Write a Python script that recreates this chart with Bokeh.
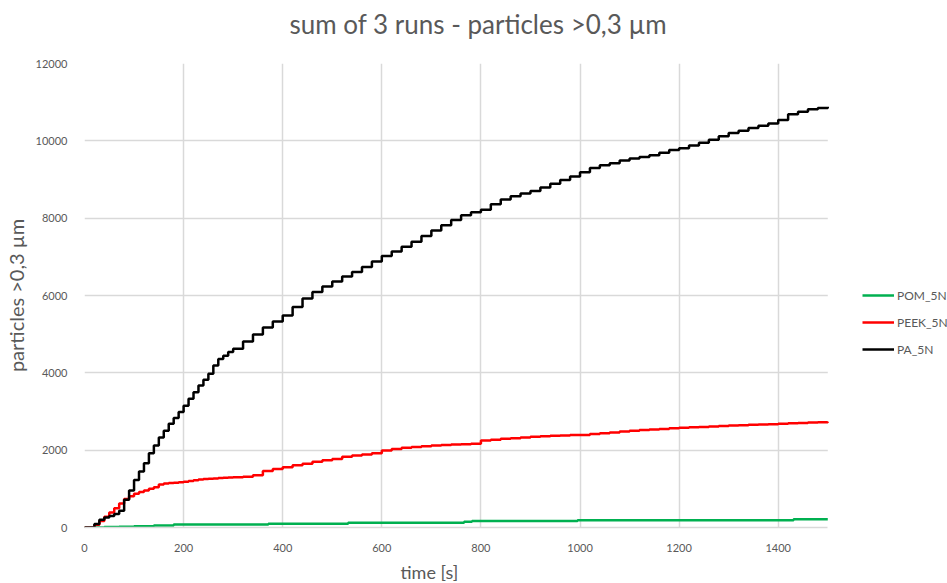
from bokeh.plotting import figure
from bokeh.models import Range1d, FixedTicker, Legend, LegendItem, Title, BoxAnnotation
from bokeh.embed import file_html
from bokeh.resources import INLINE

# time grid [s]
time_s = [0, 10, 20, 30, 40, 50, 60, 70, 80, 90, 100, 110, 120, 130, 140, 150, 160,
          170, 180, 190, 200, 210, 220, 230, 240, 250, 260, 270, 280, 290, 300,
          320, 340, 360, 380, 400, 420, 440, 460, 480, 500, 520, 540, 560, 580, 600,
          620, 640, 660, 680, 700, 720, 740, 760, 780, 800, 820, 840, 860, 880, 900,
          920, 940, 960, 980, 1000, 1020, 1040, 1060, 1080, 1100, 1120, 1140, 1160,
          1180, 1200, 1220, 1240, 1260, 1280, 1300, 1320, 1340, 1360, 1380, 1400,
          1420, 1440, 1460, 1480, 1500]

pa_5n = [0, 0, 90, 200, 260, 300, 350, 430, 720, 960, 1230, 1450, 1660, 1920, 2120,
         2330, 2500, 2680, 2830, 2990, 3150, 3330, 3500, 3670, 3820, 3975, 4190, 4360,
         4440, 4540, 4620,
         4810, 4990, 5170, 5330, 5480, 5700, 5920, 6090, 6230, 6360, 6490,
         6610, 6740, 6880, 7020, 7140, 7260, 7390, 7540, 7680, 7816, 7950, 8075, 8150,
         8220, 8360, 8480, 8570, 8640, 8700, 8790, 8890, 8990, 9080, 9190, 9300, 9370,
         9420, 9490, 9540, 9580, 9630, 9690, 9760, 9810, 9880, 9950, 10030, 10120,
         10200, 10260, 10330, 10390, 10450, 10540, 10690, 10750, 10815, 10850, 10880]

peek_5n = [0, 0, 70, 170, 280, 390, 500, 620, 740, 810, 870, 920, 960, 1000, 1040,
           1110, 1140, 1150, 1160, 1170, 1180, 1200, 1220, 1240, 1255, 1262, 1270, 1278,
           1285, 1292, 1300,
           1315, 1350, 1460, 1510, 1560, 1610, 1650, 1700, 1740, 1770, 1830,
           1860, 1890, 1920, 1990, 2030, 2060, 2080, 2100, 2120, 2135, 2145, 2150, 2165,
           2250, 2270, 2295, 2310, 2330, 2345, 2360, 2370, 2380, 2390, 2395, 2420, 2440,
           2460, 2480, 2505, 2520, 2535, 2550, 2565, 2578, 2590, 2600, 2612, 2622, 2635,
           2645, 2655, 2662, 2672, 2682, 2695, 2705, 2715, 2725, 2735]

pom_time = [0, 20, 40, 70, 100, 140, 180, 371, 532, 766, 782, 995, 1431, 1500]
pom_5n = [0, 0, 10, 20, 35, 50, 80, 100, 122, 150, 165, 190, 215, 215]

x_ticks = [0, 200, 400, 600, 800, 1000, 1200, 1400]
y_ticks = [0, 2000, 4000, 6000, 8000, 10000, 12000]
X_MAX = 1500
Y_MAX = 12000

FONT = "Lato"
GREY = "#595959"
GRID = "#D9D9D9"

# layout (pixels): the frame is stretched to the right page edge so the legend
# (drawn inside the frame) is not clipped; the data axis ends at X_MAX.
W, H = 947, 583
LEFT, TOP, BOTTOM = 82, 63, 56
AXIS_PX = 745  # pixel length of 0..X_MAX
frame_w = W - LEFT
x_end = X_MAX * frame_w / AXIS_PX

p = figure(width=W, height=H, output_backend="svg", toolbar_location=None,
           x_range=Range1d(0, x_end), y_range=Range1d(0, Y_MAX),
           min_border_left=LEFT, min_border_right=0, min_border_top=TOP,
           min_border_bottom=BOTTOM)

# title: inner spacer + text
p.add_layout(Title(text=" ", text_font_size="10px", standoff=11), "above")
p.add_layout(Title(text="sum of 3 runs - particles >0,3 µm", align="left", offset=205,
                   text_font=FONT, text_font_size="26px", text_color=GREY,
                   text_font_style="normal", standoff=0), "above")

p.outline_line_color = None
p.background_fill_color = "white"

for ax in (p.xaxis[0], p.yaxis[0]):
    ax.major_tick_line_color = None
    ax.minor_tick_line_color = None
    ax.major_label_text_font = FONT
    ax.major_label_text_font_size = "11px"
    ax.major_label_text_color = GREY

p.xaxis.ticker = FixedTicker(ticks=x_ticks)
p.yaxis.ticker = FixedTicker(ticks=y_ticks)
p.xaxis.bounds = (0, X_MAX)
p.yaxis.axis_label = "particles >0,3 µm"
p.yaxis.axis_label_text_font = FONT
p.yaxis.axis_label_text_font_size = "20px"
p.yaxis.axis_label_text_color = GREY
p.yaxis.axis_label_text_font_style = "normal"
p.xaxis.axis_line_color = GRID
p.xaxis.axis_line_width = 1.5
p.yaxis.axis_line_color = None
p.xaxis.major_label_standoff = 10
p.yaxis.major_label_standoff = 11
p.yaxis.axis_label_standoff = 5

# x-axis title: small spacer + text
p.add_layout(Title(text=" ", text_font_size="2px", standoff=0), "below")
p.add_layout(Title(text="time [s]", align="left", offset=316, text_font=FONT,
                   text_font_size="18px", text_color=GREY, text_font_style="normal",
                   standoff=0), "below")

p.xgrid.ticker = FixedTicker(ticks=x_ticks)
p.ygrid.ticker = FixedTicker(ticks=y_ticks)
p.grid.grid_line_color = GRID
p.grid.grid_line_width = 1.5

# blank out the grid beyond the end of the time axis
p.add_layout(BoxAnnotation(left=X_MAX, fill_color="white", fill_alpha=1.0,
                           line_color=None, level="underlay"))

r_pom = p.step(pom_time, pom_5n, mode="after", line_color="#00B050", line_width=2.5)
r_peek = p.step(time_s, peek_5n, mode="after", line_color="#FF0000", line_width=2.5)
r_pa = p.step(time_s, pa_5n, mode="after", line_color="#000000", line_width=2.5)

legend = Legend(items=[LegendItem(label="POM_5N", renderers=[r_pom]),
                       LegendItem(label="PEEK_5N", renderers=[r_peek]),
                       LegendItem(label="PA_5N", renderers=[r_pa])],
                location=(778, 168), orientation="vertical",
                glyph_width=32, glyph_height=20, label_height=20, spacing=7,
                label_standoff=3, padding=0, margin=0,
                border_line_color=None, background_fill_alpha=0,
                label_text_font=FONT, label_text_font_size="12px",
                label_text_color=GREY)
p.add_layout(legend, "center")

open("out.html", "w").write(file_html(p, INLINE))
